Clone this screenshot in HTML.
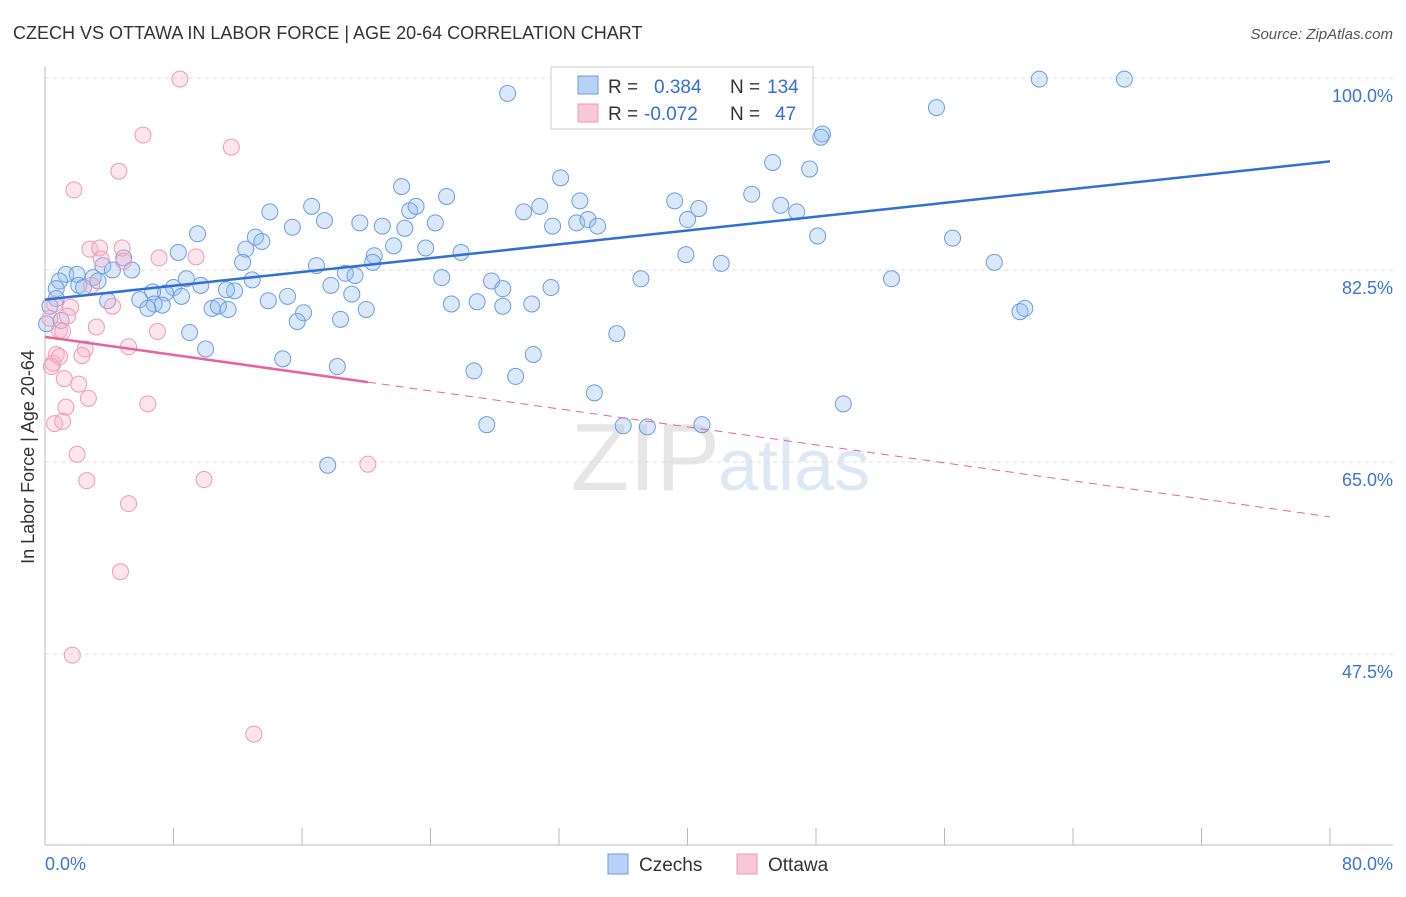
<!DOCTYPE html>
<html><head><meta charset="utf-8">
<style>
body{margin:0;background:#fff;font-family:"Liberation Sans",sans-serif;}
svg text{font-family:"Liberation Sans",sans-serif;}
</style></head>
<body>
<svg id="chart" width="1406" height="892" xmlns="http://www.w3.org/2000/svg">
<text x="13" y="39" font-size="18" fill="#333">CZECH VS OTTAWA IN LABOR FORCE | AGE 20-64 CORRELATION CHART</text>
<text x="1393" y="39" font-size="15" fill="#555" text-anchor="end" font-style="italic">Source: ZipAtlas.com</text>
<text x="720" y="490" font-size="96" fill="#e6e6e6" text-anchor="end" font-family="Liberation Serif">ZIP</text>
<text x="718" y="490" font-size="72" fill="#dde8f5">atlas</text>
<g id="grid"></g>
<g id="axes"></g>
<g id="points"></g>
<g id="trends"></g>
<text transform="translate(34,457) rotate(-90)" font-size="18" fill="#333" text-anchor="middle">In Labor Force | Age 20-64</text>
<g>
<rect x="551" y="67" width="262" height="62" fill="#fff" stroke="#ccc"/>
<rect x="578" y="76" width="20" height="18" fill="#b8d2f5" stroke="#6a9ee0"/>
<text x="608" y="93" font-size="19" fill="#333">R = </text><text x="654" y="93" font-size="19" fill="#2f6fd6">0.384</text>
<text x="730" y="93" font-size="19" fill="#333">N = </text><text x="767" y="93" font-size="19" fill="#2f6fd6">134</text>
<rect x="578" y="104" width="20" height="18" fill="#f9c8d6" stroke="#ef9ab3"/>
<text x="608" y="120" font-size="19" fill="#333">R = </text><text x="644" y="120" font-size="19" fill="#2f6fd6">-0.072</text>
<text x="730" y="120" font-size="19" fill="#333">N = </text><text x="775" y="120" font-size="19" fill="#2f6fd6">47</text>
</g>
<g><rect x="608" y="854" width="20" height="20" fill="#b8d2f5" stroke="#6a9ee0"/><text x="639" y="871" font-size="19" fill="#333">Czechs</text></g>
<g><rect x="737" y="854" width="20" height="20" fill="#f9c8d6" stroke="#ef9ab3"/><text x="768" y="871" font-size="19" fill="#333">Ottawa</text></g>
</svg>
<script>
const czechX=[28.8,36.2,41.7,46.4,61.9,67.2,55.5,48.4,45.3,47.6,32.1,22.2,25.0,16.6,14.0,15.4,17.4,19.6,21.0,22.4,22.7,23.1,24.3,29.8,30.8,31.6,33.3,33.1,33.8,34.4,39.2,40.7,40.0,44.0,45.8,46.8,48.1,56.5,59.1,39.9,42.1,9.5,13.1,13.5,12.5,12.3,21.7,20.5,23.7,25.9,8.3,16.9,18.7,20.4,24.7,27.8,28.5,31.5,37.1,52.7,4.9,5.4,3.6,4.2,3.0,1.3,2.0,0.9,0.7,2.1,3.3,2.4,8.8,9.7,8.0,7.5,6.7,8.5,11.8,11.3,12.9,17.8,19.3,19.1,15.1,13.9,3.9,5.9,6.8,7.3,6.4,10.4,10.8,11.4,16.1,15.7,18.4,20.0,25.3,26.9,28.5,30.3,35.6,60.7,61.0,9.0,10.0,14.8,18.2,30.4,26.7,29.3,34.2,49.7,27.5,36.0,37.5,40.9,17.6,0.7,0.3,0.1,1.0,48.3,46.8];
const czechY=[98.6,99.9,99.8,99.8,99.9,99.9,97.3,94.9,92.3,91.7,90.9,90.1,89.2,88.3,87.8,86.4,87.0,86.8,86.5,86.3,87.9,88.3,86.8,87.8,88.3,86.5,88.8,86.8,87.1,86.5,88.8,88.1,87.1,89.4,88.4,87.8,85.6,85.4,83.2,83.9,83.1,85.8,85.5,85.1,84.4,83.2,84.7,83.8,84.5,84.1,84.1,82.9,82.2,83.2,81.8,81.5,80.8,80.9,81.7,81.7,83.6,82.5,82.9,82.5,81.8,82.1,82.1,81.5,80.8,81.1,81.5,80.9,81.7,81.1,80.9,80.4,80.5,80.1,80.6,80.7,81.6,81.1,82.0,80.3,80.1,79.7,79.7,79.8,79.4,79.3,79.0,79.0,79.2,78.9,78.6,77.8,78.0,78.9,79.4,79.6,79.2,79.4,76.7,78.7,79.0,76.8,75.3,74.4,73.7,74.8,73.3,72.8,71.3,70.3,68.4,68.3,68.2,68.4,64.7,79.9,79.2,77.6,77.9,94.6,98.5];
const ottawaX=[8.4,6.1,11.6,4.6,1.8,2.8,3.4,4.8,7.1,9.4,3.5,4.9,2.9,4.2,0.6,1.6,1.4,0.3,0.9,1.1,3.2,7.0,2.5,5.2,0.7,0.5,2.3,0.9,0.4,1.2,2.1,2.7,1.3,6.4,0.6,1.1,2.0,2.6,9.9,5.2,20.1,4.7,1.7,13.0];
const ottawaY=[99.9,94.8,93.7,91.5,89.8,84.4,84.5,84.5,83.6,83.7,83.5,83.3,81.1,79.2,79.4,79.1,78.3,78.1,77.0,76.9,77.3,76.9,75.3,75.5,74.8,74.0,74.7,74.6,73.7,72.6,72.1,70.8,70.0,70.3,68.5,68.7,65.7,63.3,63.4,61.2,64.8,55.0,47.4,40.2];
const czechTrend=[79.8,92.4];
const ottawaTrend=[76.4,60.0];
const ottawaSolidEnd=20.1;
const yTicks=[100,82.5,65,47.5];
const xTickVals=[0,8,16,24,32,40,48,56,64,72,80];

const NS="http://www.w3.org/2000/svg";
const X0=45,X1=1330,Y100=78,PX=10.971;
const xs=v=>X0+(X1-X0)*v/80;
const ys=v=>Y100+(100-v)*PX;
function mk(tag,attrs,parent){const e=document.createElementNS(NS,tag);for(const k in attrs)e.setAttribute(k,attrs[k]);document.getElementById(parent).appendChild(e);return e;}

yTicks.forEach(t=>{
  const l=mk('line',{x1:X0,x2:1393,y1:ys(t),y2:ys(t),stroke:'#ddd','stroke-dasharray':'4,4'},'grid');
  
  
  const tx=mk('text',{x:1393,y:ys(t)+24,'font-size':18,fill:'#3a75d6','text-anchor':'end'},'grid');
  tx.textContent=(t===100?'100.0':t.toFixed(1))+'%';
  
  
});
let a=mk('line',{x1:X0,x2:X0,y1:67,y2:845,stroke:'#bbb'},'axes');


a=mk('line',{x1:X0,x2:1393,y1:845,y2:845,stroke:'#bbb'},'axes');


xTickVals.forEach(t=>{
  const l=mk('line',{x1:xs(t),x2:xs(t),y1:828,y2:845,stroke:'#bbb'},'axes');
  
  
});
[[0,'0.0%','start',45],[80,'80.0%','end',1393]].forEach(d=>{
  const t=mk('text',{x:d[3],y:870,'font-size':18,fill:'#3a75d6','text-anchor':d[2]},'axes');
  t.textContent=d[1];
  
  
});
czechX.forEach((x,i)=>{
  const c=mk('circle',{cx:xs(x),cy:ys(czechY[i]),r:8,fill:'rgba(150,190,240,0.35)',stroke:'#6a9ee0','stroke-width':1},'points');
  
  
});
ottawaX.forEach((x,i)=>{
  const c=mk('circle',{cx:xs(x),cy:ys(ottawaY[i]),r:8,fill:'rgba(248,180,200,0.35)',stroke:'#ef9ab3','stroke-width':1},'points');
  
  
});
let t1=mk('line',{x1:xs(0),y1:ys(czechTrend[0]),x2:xs(80),y2:ys(czechTrend[1]),stroke:'#2f6fd6','stroke-width':2.5},'trends');


const pAt=x=>ottawaTrend[0]+(ottawaTrend[1]-ottawaTrend[0])*x/80;
let t2=mk('line',{x1:xs(0),y1:ys(pAt(0)),x2:xs(ottawaSolidEnd),y2:ys(pAt(ottawaSolidEnd)),stroke:'#e8639a','stroke-width':2.5},'trends');


let t3=mk('line',{x1:xs(ottawaSolidEnd),y1:ys(pAt(ottawaSolidEnd)),x2:xs(80),y2:ys(pAt(80)),stroke:'#e8639a','stroke-width':1,'stroke-dasharray':'8,6'},'trends');


</script>
</body></html>
